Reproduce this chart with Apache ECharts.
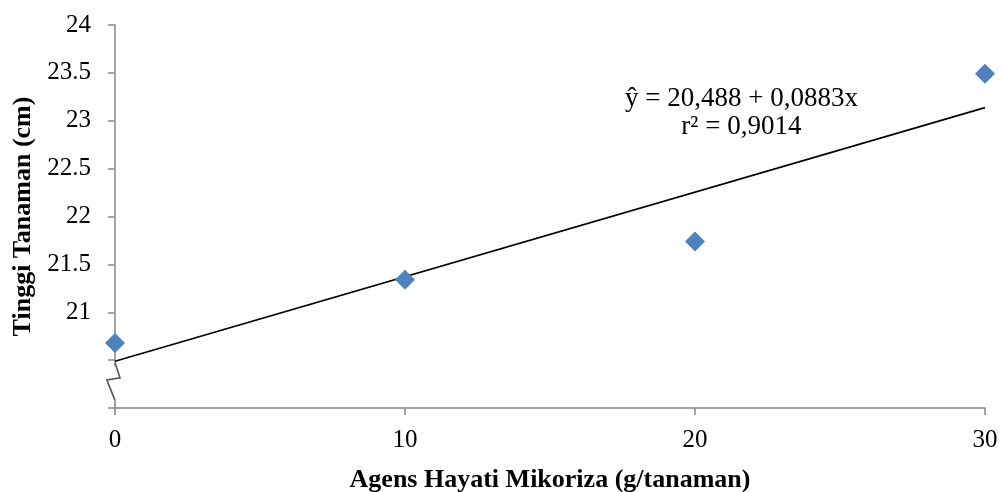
<!DOCTYPE html>
<html>
<head>
<meta charset="utf-8">
<script src="https://cdn.jsdelivr.net/npm/echarts@6/dist/echarts.min.js"></script>
<style>
  html, body { margin: 0; padding: 0; background: #fff; }
  #chart { width: 1004px; height: 492px; }
</style>
</head>
<body>
<div id="chart"></div>
<script>
// data
const doses = [0, 10, 20, 30]
const heights = [20.68, 21.34, 21.74, 23.49]
const intercept = 20.488
const slope = 0.0883
const eqLines = ['ŷ = 20,488 + 0,0883x', 'r² = 0,9014']

const font = 'Liberation Serif'
const chart = echarts.init(document.getElementById('chart'))

let points = doses.map((x, i) => [x, heights[i]])
let fitLine = [[0, intercept], [30, intercept + slope * 30]]

const option = {
    animation: false,
    grid: { left: 115, right: 19, top: 25, bottom: 84, outerBoundsMode: 'none', containLabel: false },
    xAxis: {
        type: 'value',
        min: 0,
        max: 30,
        interval: 10,
        name: 'Agens Hayati Mikoriza (g/tanaman)',
        nameLocation: 'middle',
        nameGap: 59,
        nameTextStyle: { fontFamily: font, fontSize: 26, fontWeight: 'bold', color: '#000' },
        axisLine: { lineStyle: { color: '#868686', width: 1.5 } },
        axisTick: { show: true, length: 7, lineStyle: { color: '#868686', width: 1.5 } },
        axisLabel: { fontFamily: font, fontSize: 25, color: '#000', margin: 20 },
        splitLine: { show: false }
    },
    yAxis: {
        type: 'value',
        min: 20,
        max: 24,
        interval: 0.5,
        name: 'Tinggi Tanaman (cm)',
        nameLocation: 'middle',
        nameGap: 78,
        nameTextStyle: { fontFamily: font, fontSize: 26, fontWeight: 'bold', color: '#000' },
        axisLine: { show: true, lineStyle: { color: '#868686', width: 1.5 } },
        axisTick: { show: true, length: 7, lineStyle: { color: '#868686', width: 1.5 } },
        axisLabel: {
            fontFamily: font, fontSize: 25, color: '#000', margin: 24,
            formatter: v => (v < 21 ? '' : String(v))
        },
        splitLine: { show: false }
    },
    series: [
        {
            name: 'trend',
            type: 'line',
            data: fitLine,
            symbol: 'none',
            lineStyle: { color: '#000', width: 1.6 },
            z: 2
        },
        {
            name: 'Tinggi',
            type: 'scatter',
            data: points,
            symbol: 'diamond',
            symbolSize: [20, 20],
            itemStyle: { color: '#4F81BD', opacity: 1 },
            z: 3
        }
    ]
}
chart.setOption(option)

// axis break mark + equation text
let p1 = chart.convertToPixel({ gridIndex: 0 }, [0, 20.44])
let p2 = chart.convertToPixel({ gridIndex: 0 }, [0, 20.08])
let ax = p1[0]
let brTop = p1[1], brBot = p2[1]
let eqPos = chart.convertToPixel({ gridIndex: 0 }, [21.6, 23.37])

chart.setOption({
    graphic: [
        {
            type: 'rect',
            shape: { x: ax - 14, y: brTop, width: 26, height: brBot - brTop },
            style: { fill: '#fff' },
            z: 10
        },
        {
            type: 'polyline',
            shape: {
                points: [
                    [ax, brTop - 3], [ax + 5, brTop + 12], [ax - 8, brTop + 14],
                    [ax - 7, brTop + 17], [ax, brBot]
                ]
            },
            style: { stroke: '#555', lineWidth: 1.6, fill: null },
            z: 11
        },
        {
            type: 'text',
            x: eqPos[0],
            y: eqPos[1],
            style: {
                text: eqLines.join('\n'),
                font: '27px "Liberation Serif"',
                fill: '#000',
                align: 'center',
                lineHeight: 28
            },
            z: 12
        }
    ]
})
</script>
</body>
</html>
